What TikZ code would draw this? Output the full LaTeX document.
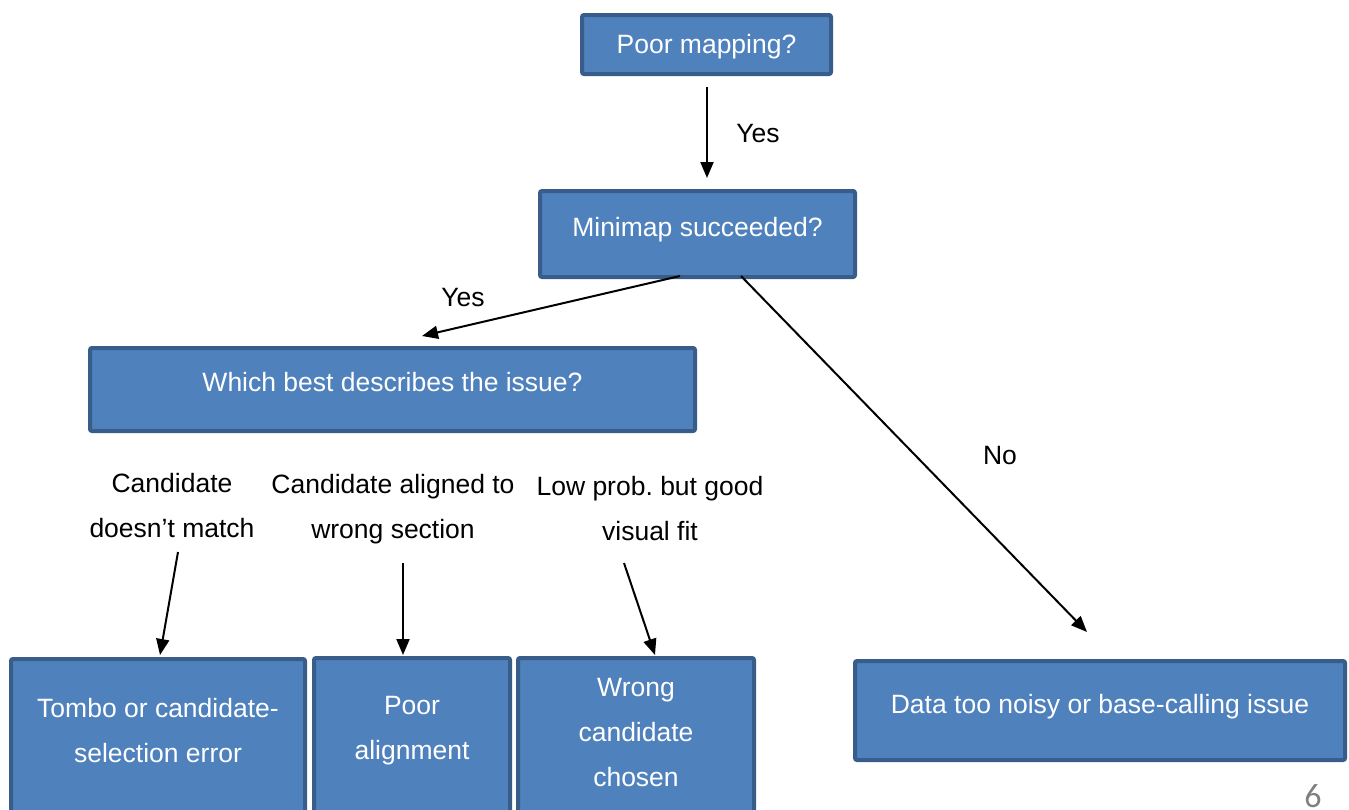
\documentclass[tikz,border=0pt]{standalone}
\usepackage{fontspec}
\setmainfont{Liberation Sans}
\newfontfamily\pagenumfont{Carlito}
\usetikzlibrary{arrows.meta}
\frenchspacing
\definecolor{boxfill}{HTML}{4F81BD}
\definecolor{boxborder}{HTML}{385D8A}
\definecolor{pagegray}{HTML}{808080}
\tikzset{
  box/.style={draw=boxborder, fill=boxfill, line width=4pt, rounded corners=2pt, inner sep=0pt},
  boxtext/.style={text=white, align=center, inner sep=0pt, font=\fontsize{26.5}{45}\selectfont},
  lbl/.style={text=black, align=center, inner sep=0pt, font=\fontsize{26.5}{45}\selectfont},
  arr/.style={line width=2pt, -{Triangle[length=16pt,width=13pt]}}
}
\begin{document}
\begin{tikzpicture}[x=1pt,y=-1pt]
\useasboundingbox (0,0) rectangle (1349,809);
% boxes
\node[box, minimum width=249pt, minimum height=59pt] (pm) at (706.5,44.5) {};
\node[box, minimum width=315pt, minimum height=86pt] (mm) at (697.5,234) {};
\node[box, minimum width=605pt, minimum height=83pt] (wb) at (392.5,389.5) {};
\node[box, minimum width=294pt, minimum height=169pt] (tb) at (158,743.5) {};
\node[box, minimum width=196pt, minimum height=170pt] (pa) at (412,743) {};
\node[box, minimum width=236pt, minimum height=170pt] (wc) at (636,743) {};
\node[box, minimum width=490pt, minimum height=99pt] (dn) at (1100,710.5) {};
% box texts
\node[boxtext, anchor=base] (pmt) at (706.5,53.5) {Poor mapping?};
\node[boxtext, anchor=base] (mmt) at (697.5,236.5) {Minimap succeeded?};
\node[boxtext, anchor=base] (wbt) at (392.5,391.5) {Which best describes the issue?};
\node[boxtext] (tbt) at (158,730.5) {Tombo or candidate-\\selection error};
\node[boxtext] (pat) at (412,730.5) {Poor\\alignment};
\node[boxtext] (wct) at (636,733) {Wrong\\candidate\\chosen};
\node[boxtext, anchor=base] (dnt) at (1100,713.5) {Data too noisy or base-calling issue};
% labels
\node[lbl, anchor=base] (y1) at (758,142.5) {Yes};
\node[lbl, anchor=base] (y2) at (463,306.5) {Yes};
\node[lbl, anchor=base] (no) at (1000,464.5) {No};
\node[lbl] (l1) at (172,505.5) {Candidate\\doesn’t match};
\node[lbl] (l2) at (393,509.5) {Candidate aligned to\\wrong section};
\node[lbl] (l3) at (650,509) {Low prob. but good\\visual fit};
\node[text=pagegray, inner sep=0pt, font=\pagenumfont\fontsize{34}{40}\selectfont] (pg) at (1313,796) {6};
% connector ends
\coordinate (a1s) at (707,87);
\coordinate (a1e) at (707,178);
\coordinate (a2s) at (680,276);
\coordinate (a2e) at (422,336);
\coordinate (a3s) at (741,276);
\coordinate (a3e) at (1087,632);
\coordinate (a4s) at (178,552);
\coordinate (a4e) at (160,655);
\coordinate (a5s) at (403,563);
\coordinate (a5e) at (403,655);
\coordinate (a6s) at (624,563);
\coordinate (a6e) at (655,655);
\draw[arr] (a1s) -- (a1e);
\draw[arr] (a2s) -- (a2e);
\draw[arr] (a3s) -- (a3e);
\draw[arr] (a4s) -- (a4e);
\draw[arr] (a5s) -- (a5e);
\draw[arr] (a6s) -- (a6e);
\end{tikzpicture}
\end{document}
